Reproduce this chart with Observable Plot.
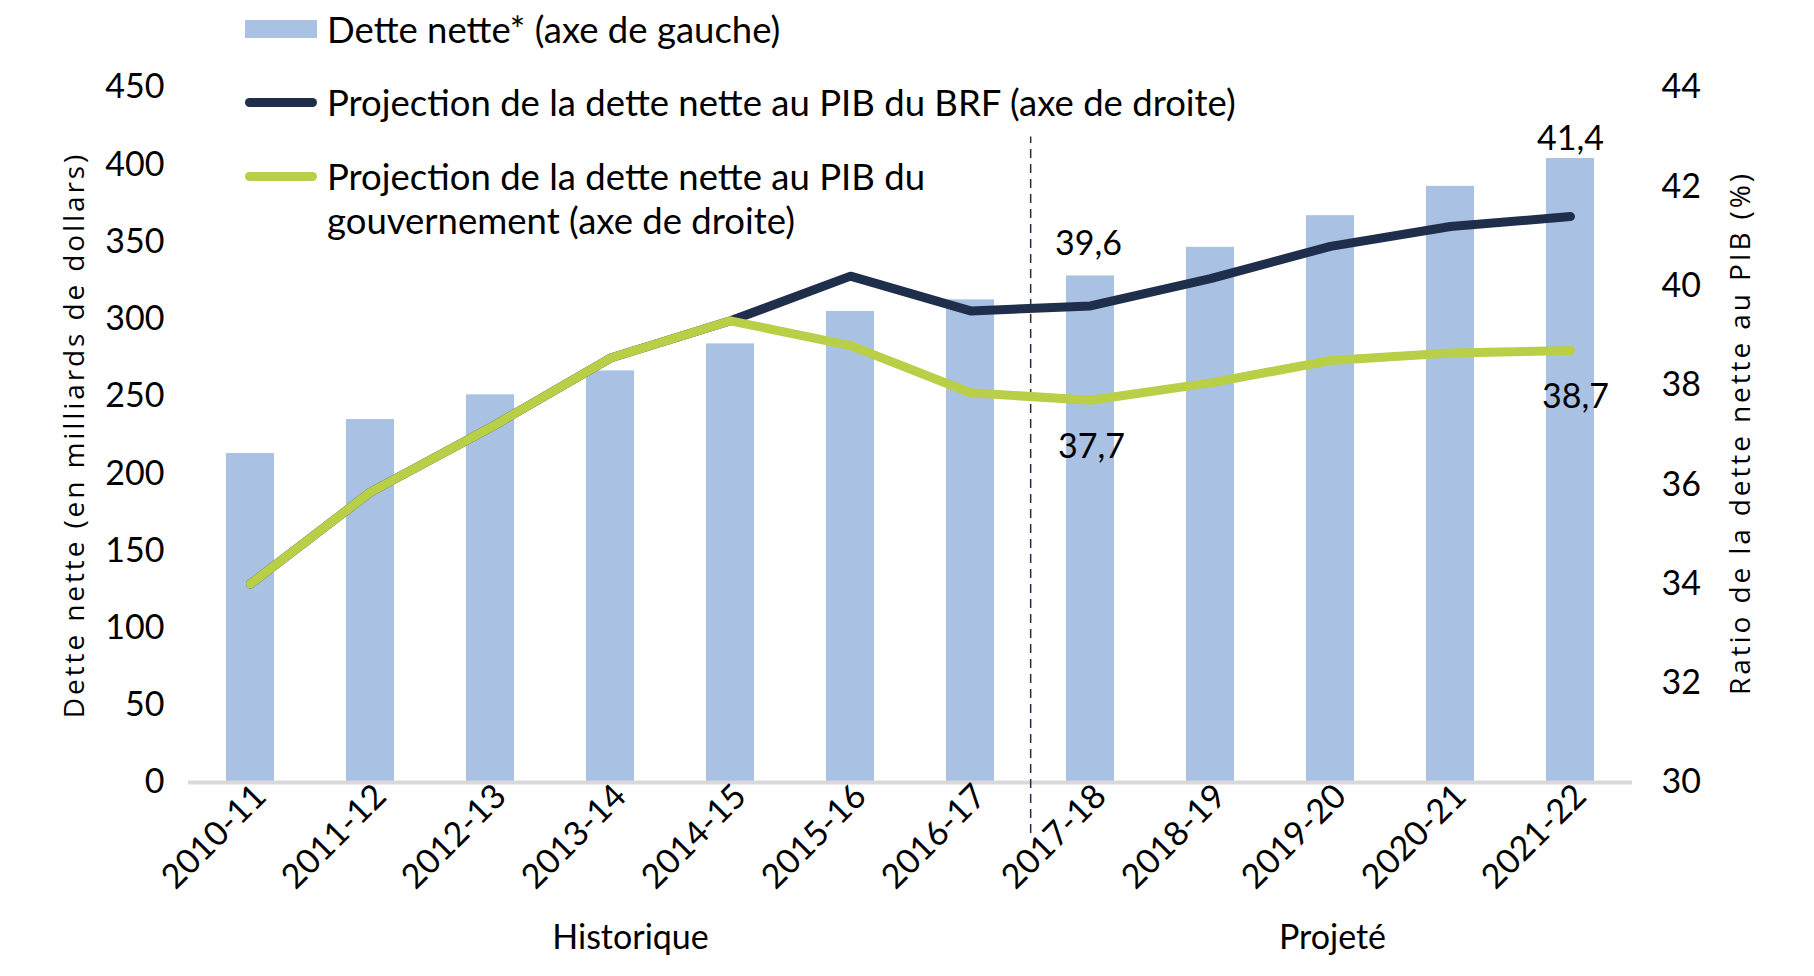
<!DOCTYPE html>
<html>
<head>
<meta charset="utf-8">
<script src="https://cdn.jsdelivr.net/npm/d3@7"></script>
<script src="https://cdn.jsdelivr.net/npm/@observablehq/plot@0.6"></script>
<style>
  body { margin: 0; background: #fff; }
  #wrap { position: relative; width: 1814px; height: 976px; }
  #legend { position: absolute; left: 0; top: 0; font-family: Lato, "Open Sans", sans-serif; font-size: 36.5px; color: #000; }
  .item { position: absolute; left: 245px; display: flex; align-items: flex-start; white-space: nowrap; line-height: 44px; }
  .sw { flex: none; width: 72px; margin-right: 10px; }
</style>
</head>
<body>
<div id="wrap">
  <div id="chart"></div>
  <div id="legend"></div>
</div>
<script>
// ---- data ----
const categories = ["2010-11","2011-12","2012-13","2013-14","2014-15","2015-16","2016-17","2017-18","2018-19","2019-20","2020-21","2021-22"];
const netDebt   = [213, 235, 251, 266.5, 284, 305, 312.5, 328, 346.5, 367, 386, 404];
const ratioBRF  = [34.0, 35.85, 37.15, 38.55, 39.3, 40.2, 39.5, 39.6, 40.15, 40.8, 41.2, 41.4];
const ratioGov  = [34.0, 35.85, 37.15, 38.55, 39.3, 38.8, 37.85, 37.7, 38.05, 38.5, 38.65, 38.7];
const leftTicks  = [0, 50, 100, 150, 200, 250, 300, 350, 400, 450];
const rightTicks = [30, 32, 34, 36, 38, 40, 42, 44];
const seriesNames = ["Dette nette* (axe de gauche)", "Projection de la dette nette au PIB du BRF (axe de droite)", "Projection de la dette nette au PIB du gouvernement (axe de droite)"];
const leftTitle  = "Dette nette (en milliards de dollars)";
const rightTitle = "Ratio de la dette nette au PIB (%)";
const periodLabels = ["Historique", "Projeté"];
const periodCenters = ["2013-14", "2019-20"];
const dividerAfter = "2016-17";
const labelledPoints = [
  {cat: "2017-18", series: "brf"},
  {cat: "2021-22", series: "brf"},
  {cat: "2017-18", series: "gov"},
  {cat: "2021-22", series: "gov"}
];

// ---- layout / style ----
const W = 1814, H = 976, ML = 188, MR = 182, MT = 87, MB = 194;
const step = (W - ML - MR) / categories.length;
const barColor = "#a9c1e3", darkColor = "#1f2e4b", greenColor = "#b8cf47";
const bodyFont = 'Lato, "Open Sans", sans-serif';
const titleFont = '"Open Sans", "Noto Sans", sans-serif';
const FS = 34;

const leftMax = 450, rMin = 30, rMax = 44;
const toLeft = v => (v - rMin) * leftMax / (rMax - rMin);
const fromLeft = v => v * (rMax - rMin) / leftMax + rMin;
const fmt = v => v.toFixed(1).replace(".", ",");

const data = categories.map((c, i) => ({cat: c, debt: netDebt[i], brf: toLeft(ratioBRF[i]), gov: toLeft(ratioGov[i])}));
const labelRows = labelledPoints.map(p => {
  const i = categories.indexOf(p.cat);
  const raw = p.series === "brf" ? ratioBRF[i] : ratioGov[i];
  return {cat: p.cat, series: p.series, y: toLeft(raw), text: fmt(raw)};
});
const labelOffsets = {
  "brf:2017-18": {dx: -2, dy: -62},
  "brf:2021-22": {dx: 0, dy: -77},
  "gov:2017-18": {dx: 1, dy: 47},
  "gov:2021-22": {dx: 5, dy: 47}
};

const chart = Plot.plot({
  width: W, height: H,
  marginLeft: ML, marginRight: MR, marginTop: MT, marginBottom: MB,
  style: {fontFamily: bodyFont, fontSize: FS + "px", color: "#000", background: "#fff", overflow: "visible"},
  x: {type: "band", domain: categories, paddingInner: 0.6, paddingOuter: 0.3, axis: null},
  y: {domain: [0, leftMax], axis: null},
  marks: [
    Plot.barY(data, {x: "cat", y: "debt", fill: barColor}),
    Plot.ruleY([0], {stroke: "#d9d9d9", strokeWidth: 4}),
    Plot.ruleX([dividerAfter], {x: d => d, y1: -33, y2: 418, dx: step / 2, stroke: darkColor, strokeWidth: 1.5, strokeDasharray: "9,6"}),
    Plot.lineY(data, {x: "cat", y: "brf", stroke: darkColor, strokeWidth: 9, strokeLinecap: "round", strokeLinejoin: "round"}),
    Plot.lineY(data, {x: "cat", y: "gov", stroke: greenColor, strokeWidth: 9, strokeLinecap: "round", strokeLinejoin: "round"}),
    ...labelRows.map(r => {
      const o = labelOffsets[r.series + ":" + r.cat];
      return Plot.text([r], {x: "cat", y: "y", text: "text", dx: o.dx, dy: o.dy, fontSize: FS, fill: "#000"});
    }),
    Plot.axisY({anchor: "left", ticks: leftTicks, tickSize: 0, tickPadding: 24, label: null, fontSize: FS}),
    Plot.axisY({anchor: "right", ticks: rightTicks.map(toLeft), tickFormat: v => String(Math.round(fromLeft(v))), tickSize: 0, tickPadding: 29, label: null, fontSize: FS}),
    Plot.axisX({domain: categories, tickRotate: -45, tickSize: 0, tickPadding: 8, dx: 10, label: null, fontSize: FS}),
    Plot.text([leftTitle], {text: d => d, frameAnchor: "left", textAnchor: "middle", dx: -113, rotate: -90, fontFamily: titleFont, fontSize: 28, fill: "#000"}),
    Plot.text([rightTitle], {text: d => d, frameAnchor: "right", textAnchor: "middle", dx: 109, dy: -2, rotate: -90, fontFamily: titleFont, fontSize: 28, fill: "#000"}),
    Plot.text([0], {x: () => periodCenters[0], text: () => periodLabels[0], frameAnchor: "bottom", dx: 20, dy: 166, fontSize: FS, fill: "#000"}),
    Plot.text([0], {x: () => periodCenters[1], text: () => periodLabels[1], frameAnchor: "bottom", dx: 2, dy: 166, fontSize: FS, fill: "#000"})
  ]
});
// letter-spaced axis titles, as in the reference
d3.select(chart).selectAll("text").filter(function() { return this.textContent === leftTitle || this.textContent === rightTitle; }).style("letter-spacing", "2.9px");
document.getElementById("chart").appendChild(chart);

// ---- legend (HTML overlay) ----
const legend = document.getElementById("legend");
const items = [
  {name: seriesNames[0], top: 7, sw: `<div class="sw" style="height:18px;background:${barColor};margin-top:13px"></div>`},
  {name: seriesNames[1], top: 80, sw: `<div class="sw" style="height:9px;border-radius:5px;background:${darkColor};margin-top:18px"></div>`},
  {name: "Projection de la dette nette au PIB du<br>gouvernement (axe de droite)", top: 154, sw: `<div class="sw" style="height:9px;border-radius:5px;background:${greenColor};margin-top:18px"></div>`}
];
for (const it of items) {
  const d = document.createElement("div");
  d.className = "item";
  d.style.top = it.top + "px";
  d.innerHTML = it.sw + `<div>${it.name}</div>`;
  legend.appendChild(d);
}
</script>
</body>
</html>
